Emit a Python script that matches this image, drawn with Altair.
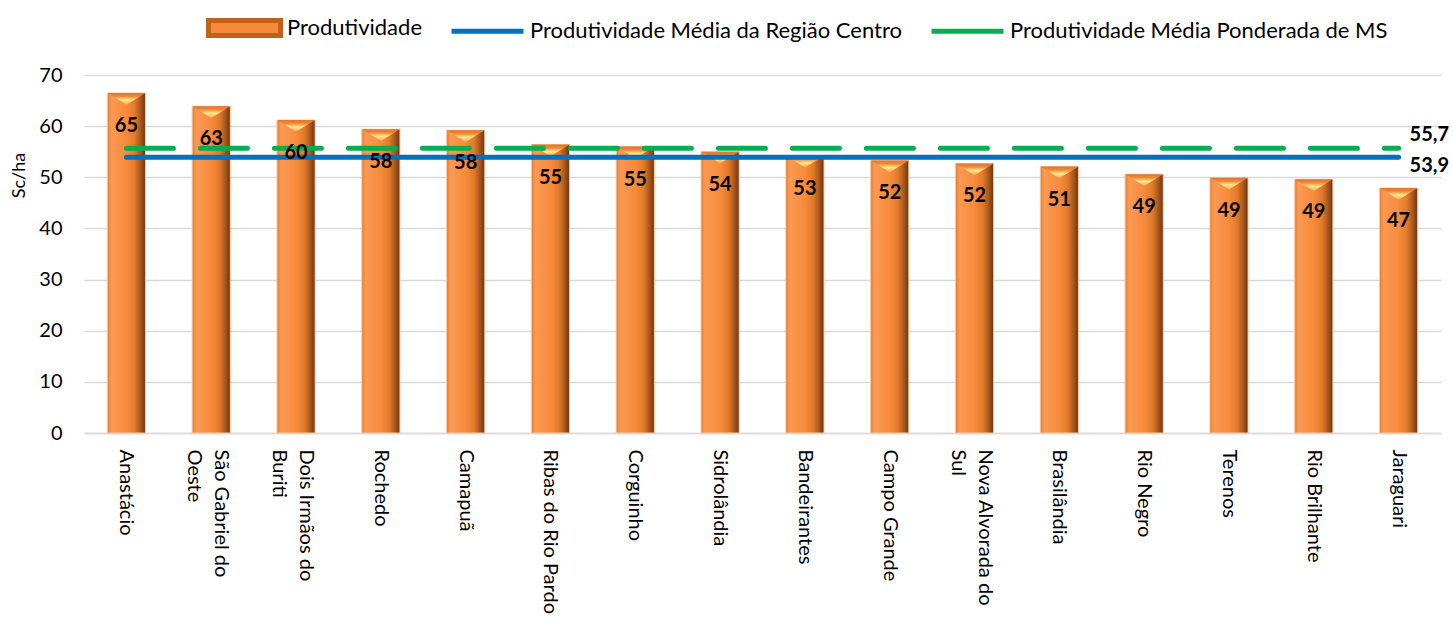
import altair as alt
import pandas as pd

# ---- data ----
municipios = ["Anastácio", "São Gabriel do\nOeste", "Dois Irmãos do\nBuriti", "Rochedo", "Camapuã",
              "Ribas do Rio Pardo", "Corguinho", "Sidrolândia", "Bandeirantes", "Campo Grande",
              "Nova Alvorada do\nSul", "Brasilândia", "Rio Negro", "Terenos", "Rio Brilhante", "Jaraguari"]
produtividade = [66.5, 63.9, 61.2, 59.4, 59.2, 56.4, 56.0, 55.0, 54.2, 53.3, 52.7, 52.1, 50.6, 49.9, 49.6, 47.9]
rotulos = [65, 63, 60, 58, 58, 55, 55, 54, 53, 52, 52, 51, 49, 49, 49, 47]
media_regiao = 53.9
media_ms = 55.7
series = ["Produtividade", "Produtividade Média da Região Centro", "Produtividade Média Ponderada de MS"]

FONT = "Lato"
ORANGE = "#F68A3A"
BLUE = "#0070C0"
GREEN = "#00B050"

df = pd.DataFrame({"mun": municipios, "val": produtividade, "lab": [str(v) for v in rotulos]})
df["regiao"] = media_regiao
df["ms"] = media_ms

ends = pd.DataFrame({
    "mun": [municipios[-1], municipios[-1]],
    "y": [media_ms, media_regiao],
    "txt": [f"{media_ms:.1f}".replace(".", ","), f"{media_regiao:.1f}".replace(".", ",")],
    "pos": ["top", "bottom"],
})

x_enc = alt.X("mun:N", sort=municipios, title=None,
              scale=alt.Scale(paddingInner=0.55, paddingOuter=0.275),
              axis=alt.Axis(labelAngle=90, labelAlign="left", labelBaseline="middle",
                            labelFont=FONT, labelFontSize=20, labelColor="#000000",
                            labelPadding=16, ticks=False, domainColor="#D9D9D9", domainWidth=1.5,
                            labelExpr="split(datum.label, '\\n')", labelLimit=0, labelLineHeight=27,
                            labelOffset={"condition": {"test": "indexof(datum.value, '\\n') >= 0", "value": 10},
                                         "value": 0}))
y_scale = alt.Scale(domain=[0, 70], nice=False)
y_axis = alt.Axis(values=list(range(0, 71, 10)), labelFont=FONT, labelFontSize=20, labelColor="#000000",
                  labelPadding=22, ticks=False, domain=False, gridColor="#D9D9D9", gridWidth=1.5,
                  title="Sc/ha", titleFont=FONT, titleFontSize=18, titleFontWeight="normal",
                  titleColor="#000000", titleX=-56, titleY=100, titleAngle=-90,
                  titleAlign="center", titleBaseline="bottom")

bar_grad = alt.Gradient(gradient="linear", x1=0, x2=1, y1=0, y2=0, stops=[
    alt.GradientStop(color="#E97A2C", offset=0),
    alt.GradientStop(color="#FA9A52", offset=0.1),
    alt.GradientStop(color="#F78B3C", offset=0.5),
    alt.GradientStop(color="#E27A2A", offset=0.72),
    alt.GradientStop(color="#A4551C", offset=0.88),
    alt.GradientStop(color="#6A3410", offset=1),
])

base = alt.Chart(df)

bars = base.mark_bar(fill=bar_grad, stroke="#F8C9A4", strokeWidth=1).encode(
    x=x_enc, y=alt.Y("val:Q", scale=y_scale, axis=y_axis))

cap_grad = alt.Gradient(gradient="linear", x1=0, x2=0, y1=0, y2=1, stops=[
    alt.GradientStop(color="#E0742A", offset=0),
    alt.GradientStop(color="#F08A3C", offset=0.3),
    alt.GradientStop(color="#FFE88C", offset=0.6),
    alt.GradientStop(color="#F9A452", offset=1),
])
caps = base.mark_point(shape="M-1,0L1,0L0,0.62Z", size=1444, filled=True, fill=cap_grad,
                       strokeWidth=0, opacity=1).encode(
    x=alt.X("mun:N", sort=municipios), y=alt.Y("val:Q"))

line_reg = base.mark_line(color=BLUE, strokeWidth=5, strokeCap="round").encode(
    x=alt.X("mun:N", sort=municipios), y=alt.Y("regiao:Q"))
line_ms = base.mark_line(color=GREEN, strokeWidth=5, strokeCap="round", strokeDash=[47, 27]).encode(
    x=alt.X("mun:N", sort=municipios), y=alt.Y("ms:Q"))

labels = base.mark_text(font=FONT, fontSize=20, fontWeight="bold", color="#000000",
                        baseline="middle", dy=33).encode(
    x=alt.X("mun:N", sort=municipios), y=alt.Y("val:Q"), text="lab:N")

end_top = alt.Chart(ends).transform_filter("datum.pos == 'top'").mark_text(
    font=FONT, fontSize=20, fontWeight="bold", color="#000000", align="left",
    baseline="middle", dx=11, dy=-13).encode(
    x=alt.X("mun:N", sort=municipios), y=alt.Y("y:Q"), text="txt:N")
end_bot = alt.Chart(ends).transform_filter("datum.pos == 'bottom'").mark_text(
    font=FONT, fontSize=20, fontWeight="bold", color="#000000", align="left",
    baseline="middle", dx=11, dy=9).encode(
    x=alt.X("mun:N", sort=municipios), y=alt.Y("y:Q"), text="txt:N")

leg_df = pd.DataFrame({"s": series})
leg = alt.Legend(title=None, orient="none", direction="horizontal", legendX=122, legendY=-86,
                 labelFont=FONT, labelFontSize=22, labelColor="#000000", labelOffset=4,
                 columnPadding=19, symbolSize=5184, symbolStrokeWidth=5, padding=0,
                 symbolOpacity=1, labelLimit=0)
legend_layer = alt.Chart(leg_df).transform_filter("false").mark_point(filled=True, opacity=1).encode(
    fill=alt.Fill("s:N", sort=series, scale=alt.Scale(domain=series, range=[ORANGE, BLUE, GREEN]), legend=leg),
    stroke=alt.Stroke("s:N", sort=series, scale=alt.Scale(domain=series, range=["#C0621E", BLUE, GREEN]), legend=leg),
    shape=alt.Shape("s:N", sort=series, scale=alt.Scale(domain=series, range=[
        "M-1,-0.21H1V0.21H-1Z", "M-1,0H1", "M-1,0H1"]), legend=leg),
)

chart = alt.layer(bars, caps, line_ms, line_reg, labels, end_top, end_bot, legend_layer).properties(
    width=1357, height=358,
    autosize=alt.AutoSizeParams(type="none"),
    padding={"left": 84, "top": 75, "right": 12, "bottom": 195},
    background="white",
).configure_view(stroke=None)

chart.save("out.html", embed_options={"renderer": "svg", "actions": False})
